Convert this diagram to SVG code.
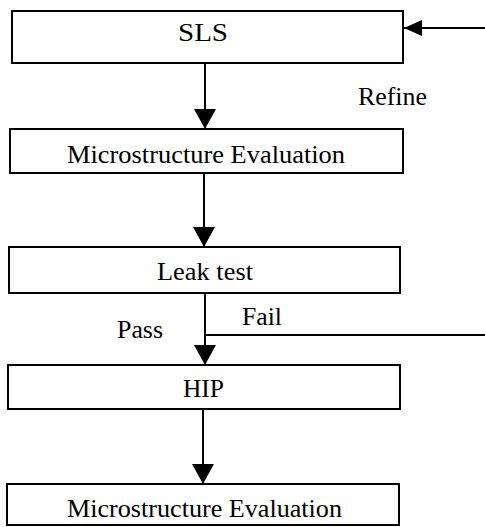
<svg xmlns="http://www.w3.org/2000/svg" width="485" height="527" viewBox="0 0 485 527">
<style>
.box{fill:#fff;stroke:#000;stroke-width:2}
.lbl{font-family:"Liberation Serif","Times New Roman",serif;font-size:26px;fill:#000}
.ln{stroke:#000;stroke-width:2;fill:none}
</style>
<defs>
<marker id="ah" markerUnits="userSpaceOnUse" markerWidth="20" markerHeight="22" refX="20" refY="11" orient="auto" viewBox="0 0 20 22">
<path d="M0,0 L20,11 L0,22 z" fill="#000"/>
</marker>
<marker id="ahs" markerUnits="userSpaceOnUse" markerWidth="18" markerHeight="16" refX="18" refY="8" orient="auto" viewBox="0 0 18 16">
<path d="M0,0 L18,8 L0,16 z" fill="#000"/>
</marker>
</defs>
<rect width="485" height="527" fill="#fff"/>
<g id="connectors">
<line class="ln" x1="205" y1="63" x2="205" y2="129" marker-end="url(#ah)"/>
<line class="ln" x1="204" y1="173" x2="204" y2="247" marker-end="url(#ah)"/>
<line class="ln" x1="205" y1="293" x2="205" y2="365" marker-end="url(#ah)"/>
<line class="ln" x1="203" y1="409" x2="203" y2="484" marker-end="url(#ah)"/>
<line class="ln" x1="205" y1="335" x2="485" y2="335"/>
<line class="ln" x1="485" y1="28" x2="404" y2="28" marker-end="url(#ahs)"/>
<text class="lbl" x="358" y="105" textLength="69" lengthAdjust="spacingAndGlyphs">Refine</text>
<text class="lbl" x="242" y="325" textLength="40" lengthAdjust="spacingAndGlyphs">Fail</text>
<text class="lbl" x="117" y="338" textLength="46" lengthAdjust="spacingAndGlyphs">Pass</text>
</g>
<g id="sls">
<rect class="box" x="12" y="11" width="391" height="52"/>
<text class="lbl" x="178" y="41" textLength="50" lengthAdjust="spacingAndGlyphs">SLS</text>
</g>
<g id="micro1">
<rect class="box" x="10" y="129" width="393" height="44"/>
<text class="lbl" x="67" y="163" textLength="278" lengthAdjust="spacingAndGlyphs">Microstructure Evaluation</text>
</g>
<g id="leak">
<rect class="box" x="9" y="247" width="391" height="46"/>
<text class="lbl" x="157" y="280" textLength="96" lengthAdjust="spacingAndGlyphs">Leak test</text>
</g>
<g id="hip">
<rect class="box" x="8" y="365" width="392" height="44"/>
<text class="lbl" x="183" y="397" textLength="41" lengthAdjust="spacingAndGlyphs">HIP</text>
</g>
<g id="micro2">
<rect class="box" x="7" y="484" width="392" height="41"/>
<text class="lbl" x="67" y="517" textLength="275" lengthAdjust="spacingAndGlyphs">Microstructure Evaluation</text>
</g>
</svg>
